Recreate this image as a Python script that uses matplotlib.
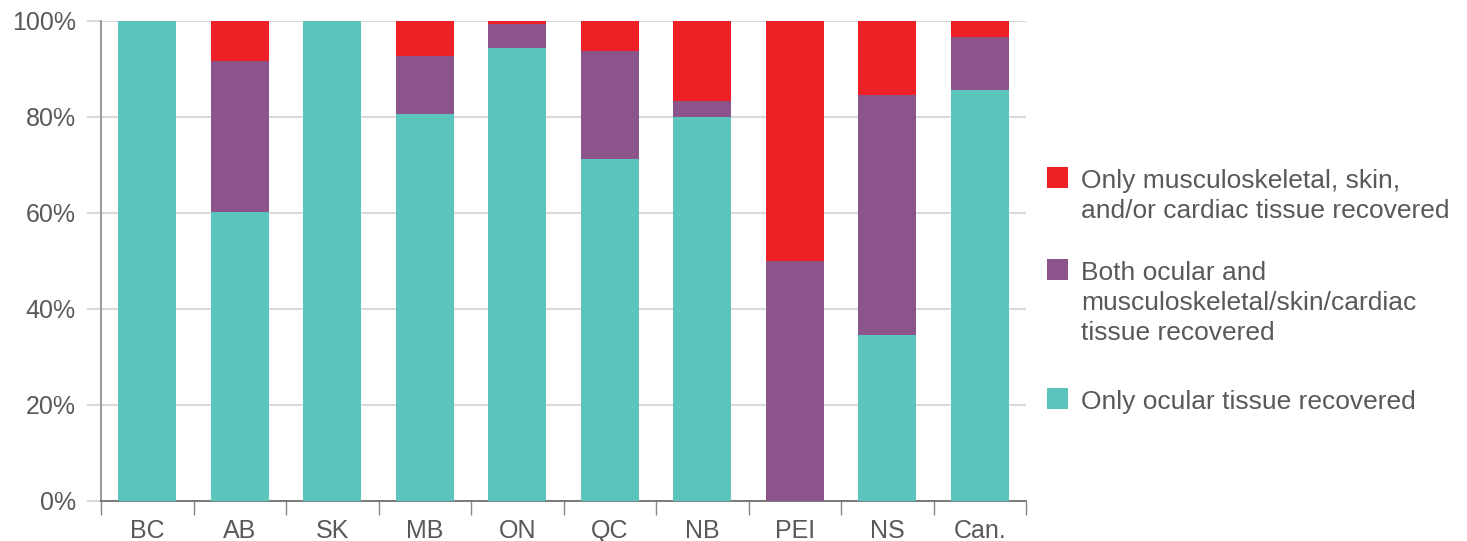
import matplotlib
matplotlib.use("Agg")
import matplotlib.pyplot as plt
from matplotlib.patches import Rectangle
import numpy as np

plt.rcParams['font.family'] = ['Liberation Sans', 'DejaVu Sans']

categories = ["BC", "AB", "SK", "MB", "ON", "QC", "NB", "PEI", "NS", "Can."]
only_ocular = [100, 60.2, 100, 80.6, 94.4, 71.3, 80.1, 0, 34.6, 85.6]
both = [0, 31.4, 0, 12.1, 4.9, 22.5, 3.3, 50, 49.9, 11.0]
only_msc = [0, 8.4, 0, 7.3, 0.7, 6.2, 16.6, 50, 15.5, 3.4]

labels = ["Only musculoskeletal, skin,\nand/or cardiac tissue recovered",
          "Both ocular and\nmusculoskeletal/skin/cardiac\ntissue recovered",
          "Only ocular tissue recovered"]
colors = ["#ED2026", "#8B558C", "#5BC4BC"]
text_color = "#595959"

W, H = 1467, 541
fig = plt.figure(figsize=(W / 100, H / 100), dpi=100)
ax = fig.add_axes([101/W, 40/H, (1026-101)/W, 480/H])

x = np.arange(len(categories))
w = 0.63
ax.bar(x, only_ocular, w, color=colors[2], zorder=3, label=labels[2])
ax.bar(x, both, w, bottom=only_ocular, color=colors[1], zorder=3, label=labels[1])
bottom2 = np.array(only_ocular) + np.array(both)
ax.bar(x, only_msc, w, bottom=bottom2, color=colors[0], zorder=3, label=labels[0])

ax.set_xlim(-0.5, len(categories) - 0.5)
ax.set_ylim(0, 100)
ax.set_yticks(np.arange(0, 101, 20))
ax.set_yticklabels([f"{v}%" for v in range(0, 101, 20)])
ax.yaxis.grid(True, color="#d9d9d9", linewidth=1.5, zorder=0)
ax.set_axisbelow(True)

ax.set_xticks(x)
ax.set_xticklabels(categories)
ax.set_xticks(np.arange(-0.5, len(categories)), minor=True)
ax.tick_params(axis='x', which='major', length=0, pad=13, labelsize=18, labelcolor=text_color)
ax.tick_params(axis='x', which='minor', length=10, color="#888888", width=1)
ax.tick_params(axis='y', length=10, color="#d9d9d9", width=1.5, labelsize=18,
               labelcolor=text_color, pad=8)

for s in ["top", "right"]:
    ax.spines[s].set_visible(False)
ax.spines["left"].set_color("#888888")
ax.spines["left"].set_linewidth(1.2)
ax.spines["bottom"].set_color("#666666")
ax.spines["bottom"].set_linewidth(1.2)

# legend drawn manually (square aligned with first text line)
baselines = [188, 280, 409]
for lab, col, yb in zip(labels, colors, baselines):
    fig.patches.append(Rectangle((1047/W, 1 - yb/H), 21/W, 21/H,
                                 transform=fig.transFigure, facecolor=col,
                                 edgecolor='none'))
    first_top = 1 - (yb - 19.5)/H
    fig.text(1081/W, first_top, lab, fontsize=19, color=text_color,
             va='top', ha='left', linespacing=1.32)

fig.savefig("out.png", dpi=100)
